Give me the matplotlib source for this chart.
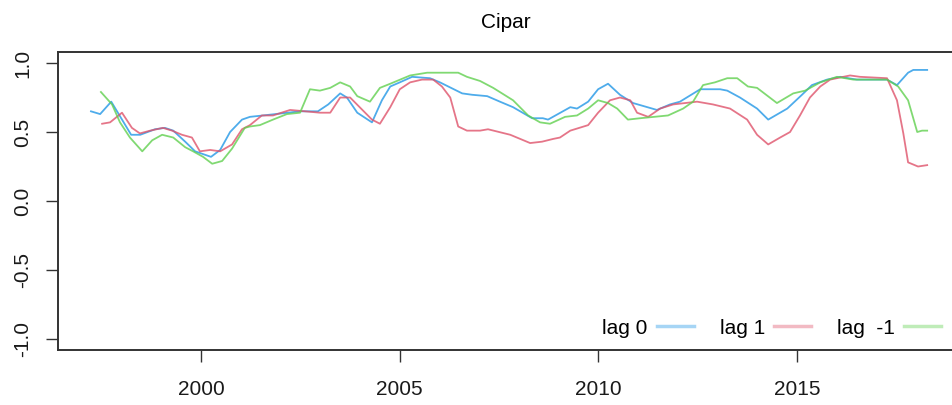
import matplotlib
matplotlib.use('Agg')
import matplotlib.pyplot as plt

# lag 0
x0 = [1997.23, 1997.46, 1997.74, 1998.24, 1998.47, 1998.84, 1999.09, 1999.3, 1999.6, 1999.85,
      2000.25, 2000.48, 2000.73, 2001.03, 2001.23, 2001.56, 2002.49, 2002.94, 2003.2, 2003.5,
      2003.67, 2003.93, 2004.3, 2004.55, 2004.76, 2005.0, 2005.31, 2005.76, 2006.01, 2006.57,
      2006.82, 2007.2, 2007.52, 2007.85, 2008.33, 2008.6, 2008.73, 2009.29, 2009.46, 2009.74,
      2009.99, 2010.24, 2010.54, 2010.87, 2011.47, 2011.8, 2012.05, 2012.56, 2013.06, 2013.24,
      2013.56, 2013.99, 2014.27, 2014.75, 2015.12, 2015.37, 2015.75, 2016.08, 2016.5, 2017.16,
      2017.26, 2017.51, 2017.79, 2017.92, 2018.27]
y0 = [0.65, 0.63, 0.72, 0.48, 0.48, 0.52, 0.53, 0.51, 0.43, 0.36,
      0.32, 0.37, 0.50, 0.59, 0.61, 0.62, 0.65, 0.65, 0.70, 0.78,
      0.75, 0.64, 0.57, 0.73, 0.83, 0.86, 0.90, 0.89, 0.86, 0.78,
      0.77, 0.76, 0.72, 0.68, 0.60, 0.60, 0.59, 0.68, 0.67, 0.72,
      0.81, 0.85, 0.77, 0.71, 0.66, 0.70, 0.72, 0.81, 0.81, 0.80,
      0.75, 0.67, 0.59, 0.67, 0.77, 0.84, 0.88, 0.90, 0.88, 0.88,
      0.88, 0.84, 0.93, 0.95, 0.95]

# lag 1
x1 = [1997.51, 1997.71, 1998.01, 1998.26, 1998.46, 1998.72, 1999.04, 1999.27, 1999.52, 1999.77,
      1999.97, 2000.23, 2000.48, 2000.78, 2001.03, 2001.23, 2001.53, 2001.81, 2002.24, 2002.62,
      2002.99, 2003.25, 2003.5, 2003.75, 2004.3, 2004.5, 2004.76, 2005.0, 2005.26, 2005.56,
      2005.84, 2006.06, 2006.27, 2006.47, 2006.69, 2007.02, 2007.22, 2007.78, 2008.28, 2008.58,
      2008.86, 2009.03, 2009.29, 2009.74, 2009.99, 2010.29, 2010.54, 2010.8, 2010.97, 2011.25,
      2011.55, 2011.88, 2012.48, 2012.88, 2013.31, 2013.74, 2013.99, 2014.27, 2014.57, 2014.82,
      2015.07, 2015.32, 2015.58, 2015.83, 2016.16, 2016.33, 2016.58, 2017.26, 2017.51, 2017.67,
      2017.79, 2018.04, 2018.27]
y1 = [0.56, 0.57, 0.64, 0.53, 0.49, 0.51, 0.53, 0.51, 0.48, 0.46,
      0.36, 0.37, 0.36, 0.41, 0.52, 0.55, 0.62, 0.62, 0.66, 0.65,
      0.64, 0.64, 0.75, 0.75, 0.59, 0.56, 0.68, 0.81, 0.86, 0.88,
      0.88, 0.83, 0.75, 0.54, 0.51, 0.51, 0.52, 0.48, 0.42, 0.43,
      0.45, 0.46, 0.51, 0.55, 0.64, 0.73, 0.75, 0.73, 0.64, 0.61,
      0.67, 0.70, 0.72, 0.70, 0.67, 0.59, 0.48, 0.41, 0.46, 0.50,
      0.62, 0.75, 0.83, 0.88, 0.90, 0.91, 0.90, 0.89, 0.73, 0.49,
      0.28, 0.25, 0.26]

# lag -1
xm1 = [1997.48, 1997.76, 1997.96, 1998.21, 1998.52, 1998.77, 1999.02, 1999.3, 1999.6, 1999.8,
       2000.05, 2000.28, 2000.53, 2000.78, 2001.1, 2001.23, 2001.48, 2001.81, 2002.16, 2002.49,
       2002.74, 2002.99, 2003.25, 2003.5, 2003.75, 2003.93, 2004.25, 2004.5, 2004.76, 2005.01,
       2005.26, 2005.69, 2006.47, 2006.69, 2007.02, 2007.35, 2007.85, 2008.23, 2008.53, 2008.78,
       2009.16, 2009.46, 2009.74, 2009.99, 2010.24, 2010.47, 2010.74, 2011.05, 2011.75, 2012.13,
       2012.38, 2012.63, 2012.93, 2013.24, 2013.49, 2013.76, 2013.99, 2014.49, 2014.9, 2015.2,
       2015.58, 2016.0, 2016.41, 2017.26, 2017.54, 2017.79, 2018.02, 2018.14, 2018.27]
ym1 = [0.79, 0.70, 0.57, 0.46, 0.36, 0.44, 0.48, 0.46, 0.39, 0.36,
       0.32, 0.27, 0.29, 0.38, 0.53, 0.54, 0.55, 0.59, 0.63, 0.64,
       0.81, 0.80, 0.82, 0.86, 0.83, 0.76, 0.72, 0.82, 0.85, 0.88,
       0.91, 0.93, 0.93, 0.90, 0.87, 0.82, 0.73, 0.62, 0.57, 0.56,
       0.61, 0.62, 0.67, 0.73, 0.71, 0.67, 0.59, 0.60, 0.62, 0.67,
       0.72, 0.84, 0.86, 0.89, 0.89, 0.83, 0.82, 0.71, 0.78, 0.80,
       0.86, 0.90, 0.88, 0.88, 0.83, 0.73, 0.50, 0.51, 0.51]

labels = ['lag 0', 'lag 1', 'lag  -1']
colors = ['#2297E6', '#DF536B', '#61D04F']

plt.rcParams['font.family'] = ['Liberation Sans', 'DejaVu Sans']

fig = plt.figure(figsize=(9.53, 4.05), dpi=100)
ax = fig.add_axes([58 / 953, 55 / 405, 895 / 953, 298 / 405])

for xs, ys, c, lab in zip([x0, x1, xm1], [y0, y1, ym1], colors, labels):
    ax.plot(xs, ys, color=c, alpha=0.8, lw=1.3, label=lab)

ax.set_xlim(1996.4, 2018.92)
ax.set_ylim(-1.08, 1.08)
ax.set_xticks([2000, 2005, 2010, 2015])
ax.set_yticks([-1.0, -0.5, 0.0, 0.5, 1.0])
ax.set_yticklabels(['-1.0', '-0.5', '0.0', '0.5', '1.0'], rotation=90, va='center')
ax.tick_params(labelsize=15, length=8.5, width=1, color='#333333', labelcolor='#1a1a1a')
ax.tick_params(axis='x', pad=13)
ax.tick_params(axis='y', pad=10)
ax.spines['right'].set_visible(False)
for s in ['left', 'bottom', 'top']:
    ax.spines[s].set_linewidth(1.4)
    ax.spines[s].set_color('#333333')

ax.set_title('Cipar', fontsize=15, pad=17)

leg = ax.legend(loc='lower right', ncol=3, frameon=False, markerfirst=False, fontsize=15,
                handlelength=1.75, columnspacing=1.25, handletextpad=0.45,
                borderaxespad=0.2, bbox_to_anchor=(1.0, 0.0))
for h in leg.get_lines():
    h.set_alpha(0.4)
    h.set_linewidth(2.5)

fig.savefig('out.png', dpi=100)
